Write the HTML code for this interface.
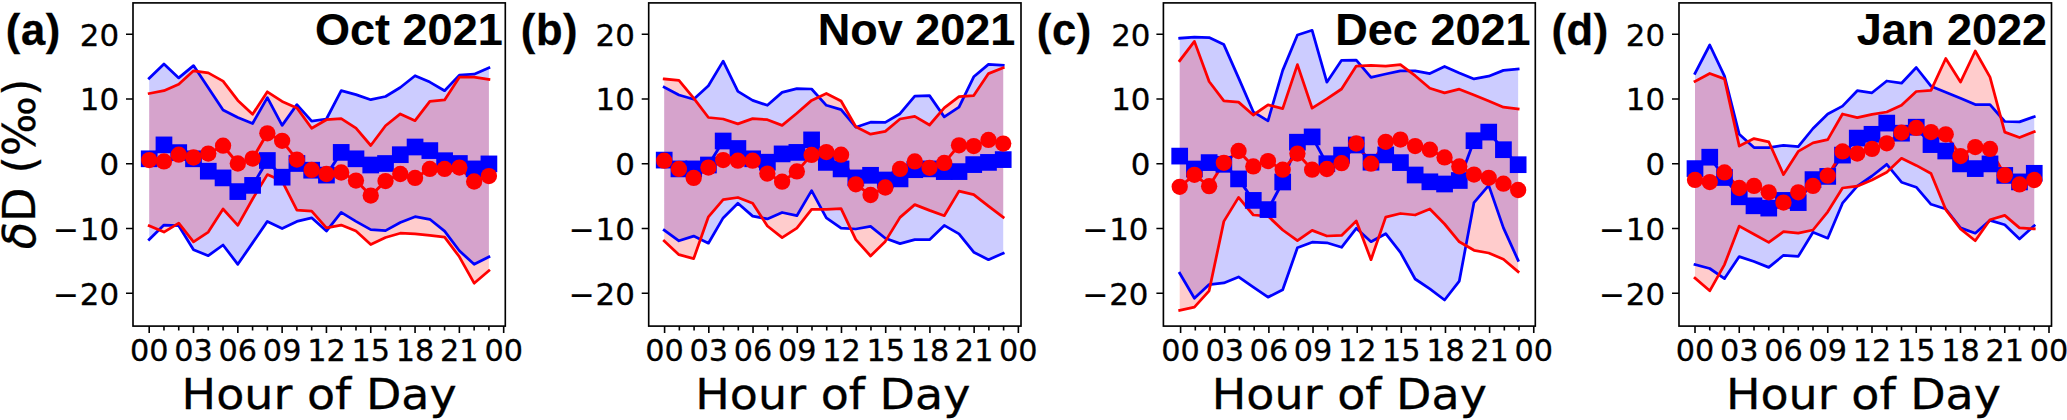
<!DOCTYPE html>
<html lang="en"><head><meta charset="utf-8"><title>Diurnal cycle of δD</title>
<style>html,body{margin:0;padding:0;background:#fff}body{width:2067px;height:420px;overflow:hidden}svg{display:block}.t{font-family:"DejaVu Sans","Liberation Sans",sans-serif;fill:#000}.b{font-family:"Liberation Sans",Arial,Helvetica,sans-serif;font-weight:bold;fill:#000}.l{letter-spacing:0.6px}</style></head><body>
<svg width="2067" height="420" viewBox="0 0 2067 420">
<rect width="2067" height="420" fill="#fff"/>
<g id="panel-a">
<polygon points="149.2,78.3 163.97,63.9 178.74,77.9 193.51,65.6 208.28,87.7 223.05,110 237.82,117.5 252.59,123.5 267.36,97.6 282.13,125.4 296.9,104.6 311.67,121.2 326.44,119 341.21,90.7 355.98,94.6 370.75,99.7 385.52,96.5 400.29,87.5 415.06,75.7 429.83,82.1 444.6,90.7 459.37,75.1 474.14,74.2 488.91,67.8 488.91,256.8 474.14,264.3 459.37,250.8 444.6,231.1 429.83,219.3 415.06,216.7 400.29,222.5 385.52,230.6 370.75,229.6 355.98,221.4 341.21,212.4 326.44,231.1 311.67,217.8 296.9,221.4 282.13,228.5 267.36,221.4 252.59,242.9 237.82,264.3 223.05,245 208.28,255.7 193.51,249.7 178.74,225.7 163.97,225.1 149.2,239.6" fill="#0000ff" fill-opacity="0.2"/>
<polygon points="149.2,93.5 163.97,90.7 178.74,84.3 193.51,70.8 208.28,72.9 223.05,81.1 237.82,100.4 252.59,114.3 267.36,91.8 282.13,101.4 296.9,107.9 311.67,128.2 326.44,119.7 341.21,118.6 355.98,128.2 370.75,145.5 385.52,125.7 400.29,113.9 415.06,120.7 429.83,101.4 444.6,99.9 459.37,77.2 474.14,77.2 488.91,79.4 488.91,270.7 474.14,283.2 459.37,256.8 444.6,237.1 429.83,235.4 415.06,233.9 400.29,233.2 385.52,237.5 370.75,244.6 355.98,231.1 341.21,225.1 326.44,227.9 311.67,211.1 296.9,210.1 282.13,181.1 267.36,174.6 252.59,199 237.82,225.3 223.05,209 208.28,232.1 193.51,241.8 178.74,223.1 163.97,232.1 149.2,225.7" fill="#ff0000" fill-opacity="0.2"/>
<polyline points="149.2,78.3 163.97,63.9 178.74,77.9 193.51,65.6 208.28,87.7 223.05,110 237.82,117.5 252.59,123.5 267.36,97.6 282.13,125.4 296.9,104.6 311.67,121.2 326.44,119 341.21,90.7 355.98,94.6 370.75,99.7 385.52,96.5 400.29,87.5 415.06,75.7 429.83,82.1 444.6,90.7 459.37,75.1 474.14,74.2 488.91,67.8" fill="none" stroke="#0000ff" stroke-width="2.75" stroke-linejoin="round" stroke-linecap="square"/>
<polyline points="149.2,239.6 163.97,225.1 178.74,225.7 193.51,249.7 208.28,255.7 223.05,245 237.82,264.3 252.59,242.9 267.36,221.4 282.13,228.5 296.9,221.4 311.67,217.8 326.44,231.1 341.21,212.4 355.98,221.4 370.75,229.6 385.52,230.6 400.29,222.5 415.06,216.7 429.83,219.3 444.6,231.1 459.37,250.8 474.14,264.3 488.91,256.8" fill="none" stroke="#0000ff" stroke-width="2.75" stroke-linejoin="round" stroke-linecap="square"/>
<polyline points="149.2,93.5 163.97,90.7 178.74,84.3 193.51,70.8 208.28,72.9 223.05,81.1 237.82,100.4 252.59,114.3 267.36,91.8 282.13,101.4 296.9,107.9 311.67,128.2 326.44,119.7 341.21,118.6 355.98,128.2 370.75,145.5 385.52,125.7 400.29,113.9 415.06,120.7 429.83,101.4 444.6,99.9 459.37,77.2 474.14,77.2 488.91,79.4" fill="none" stroke="#ff0000" stroke-width="2.75" stroke-linejoin="round" stroke-linecap="square"/>
<polyline points="149.2,225.7 163.97,232.1 178.74,223.1 193.51,241.8 208.28,232.1 223.05,209 237.82,225.3 252.59,199 267.36,174.6 282.13,181.1 296.9,210.1 311.67,211.1 326.44,227.9 341.21,225.1 355.98,231.1 370.75,244.6 385.52,237.5 400.29,233.2 415.06,233.9 429.83,235.4 444.6,237.1 459.37,256.8 474.14,283.2 488.91,270.7" fill="none" stroke="#ff0000" stroke-width="2.75" stroke-linejoin="round" stroke-linecap="square"/>
<polyline points="149.2,158.8 163.97,144.9 178.74,152.6 193.51,158.8 208.28,171.2 223.05,177.9 237.82,191.6 252.59,185.4 267.36,160.5 282.13,177.2 296.9,163.5 311.67,170.2 326.44,175.1 341.21,152.4 355.98,158.8 370.75,165 385.52,163.5 400.29,154.7 415.06,147 429.83,150.6 444.6,160.7 459.37,163.5 474.14,168.9 488.91,163.9" fill="none" stroke="#0000ff" stroke-width="2.9" stroke-linejoin="round" stroke-linecap="square"/>
<polyline points="149.2,160.1 163.97,161.4 178.74,154.7 193.51,157.5 208.28,153.6 223.05,145.7 237.82,163.5 252.59,158.6 267.36,133.3 282.13,140.8 296.9,159.6 311.67,169.9 326.44,174 341.21,172.5 355.98,180.6 370.75,195.6 385.52,181.1 400.29,174 415.06,177.9 429.83,168.9 444.6,168.9 459.37,167.6 474.14,181.5 488.91,176.1" fill="none" stroke="#ff0000" stroke-width="2.9" stroke-linejoin="round" stroke-linecap="square"/>
<g fill="#0000ff"><rect x="140.85" y="150.45" width="16.7" height="16.7"/><rect x="155.62" y="136.55" width="16.7" height="16.7"/><rect x="170.39" y="144.25" width="16.7" height="16.7"/><rect x="185.16" y="150.45" width="16.7" height="16.7"/><rect x="199.93" y="162.85" width="16.7" height="16.7"/><rect x="214.7" y="169.55" width="16.7" height="16.7"/><rect x="229.47" y="183.25" width="16.7" height="16.7"/><rect x="244.24" y="177.05" width="16.7" height="16.7"/><rect x="259.01" y="152.15" width="16.7" height="16.7"/><rect x="273.78" y="168.85" width="16.7" height="16.7"/><rect x="288.55" y="155.15" width="16.7" height="16.7"/><rect x="303.32" y="161.85" width="16.7" height="16.7"/><rect x="318.09" y="166.75" width="16.7" height="16.7"/><rect x="332.86" y="144.05" width="16.7" height="16.7"/><rect x="347.63" y="150.45" width="16.7" height="16.7"/><rect x="362.4" y="156.65" width="16.7" height="16.7"/><rect x="377.17" y="155.15" width="16.7" height="16.7"/><rect x="391.94" y="146.35" width="16.7" height="16.7"/><rect x="406.71" y="138.65" width="16.7" height="16.7"/><rect x="421.48" y="142.25" width="16.7" height="16.7"/><rect x="436.25" y="152.35" width="16.7" height="16.7"/><rect x="451.02" y="155.15" width="16.7" height="16.7"/><rect x="465.79" y="160.55" width="16.7" height="16.7"/><rect x="480.56" y="155.55" width="16.7" height="16.7"/></g>
<g fill="#ff0000"><circle cx="149.2" cy="160.1" r="8.15"/><circle cx="163.97" cy="161.4" r="8.15"/><circle cx="178.74" cy="154.7" r="8.15"/><circle cx="193.51" cy="157.5" r="8.15"/><circle cx="208.28" cy="153.6" r="8.15"/><circle cx="223.05" cy="145.7" r="8.15"/><circle cx="237.82" cy="163.5" r="8.15"/><circle cx="252.59" cy="158.6" r="8.15"/><circle cx="267.36" cy="133.3" r="8.15"/><circle cx="282.13" cy="140.8" r="8.15"/><circle cx="296.9" cy="159.6" r="8.15"/><circle cx="311.67" cy="169.9" r="8.15"/><circle cx="326.44" cy="174" r="8.15"/><circle cx="341.21" cy="172.5" r="8.15"/><circle cx="355.98" cy="180.6" r="8.15"/><circle cx="370.75" cy="195.6" r="8.15"/><circle cx="385.52" cy="181.1" r="8.15"/><circle cx="400.29" cy="174" r="8.15"/><circle cx="415.06" cy="177.9" r="8.15"/><circle cx="429.83" cy="168.9" r="8.15"/><circle cx="444.6" cy="168.9" r="8.15"/><circle cx="459.37" cy="167.6" r="8.15"/><circle cx="474.14" cy="181.5" r="8.15"/><circle cx="488.91" cy="176.1" r="8.15"/></g>
<rect x="133" y="2.9" width="372.3" height="323.2" fill="none" stroke="#000" stroke-width="1.65"/>
<path d="M149.2 326.1v7.0M163.97 326.1v4.4M178.74 326.1v4.4M193.51 326.1v7.0M208.28 326.1v4.4M223.05 326.1v4.4M237.82 326.1v7.0M252.59 326.1v4.4M267.36 326.1v4.4M282.13 326.1v7.0M296.9 326.1v4.4M311.67 326.1v4.4M326.44 326.1v7.0M341.21 326.1v4.4M355.98 326.1v4.4M370.75 326.1v7.0M385.52 326.1v4.4M400.29 326.1v4.4M415.06 326.1v7.0M429.83 326.1v4.4M444.6 326.1v4.4M459.37 326.1v7.0M474.14 326.1v4.4M488.91 326.1v4.4M503.68 326.1v7.0M133 34.3h-7M133 99.05h-7M133 163.8h-7M133 228.55h-7M133 293.3h-7" stroke="#000" stroke-width="1.6" fill="none"/>
<text class="t" transform="translate(149.2,361) scale(1.02,1)" font-size="29.7" text-anchor="middle" stroke="#000" stroke-width="0.3">00</text>
<text class="t" transform="translate(193.51,361) scale(1.02,1)" font-size="29.7" text-anchor="middle" stroke="#000" stroke-width="0.3">03</text>
<text class="t" transform="translate(237.82,361) scale(1.02,1)" font-size="29.7" text-anchor="middle" stroke="#000" stroke-width="0.3">06</text>
<text class="t" transform="translate(282.13,361) scale(1.02,1)" font-size="29.7" text-anchor="middle" stroke="#000" stroke-width="0.3">09</text>
<text class="t" transform="translate(326.44,361) scale(1.02,1)" font-size="29.7" text-anchor="middle" stroke="#000" stroke-width="0.3">12</text>
<text class="t" transform="translate(370.75,361) scale(1.02,1)" font-size="29.7" text-anchor="middle" stroke="#000" stroke-width="0.3">15</text>
<text class="t" transform="translate(415.06,361) scale(1.02,1)" font-size="29.7" text-anchor="middle" stroke="#000" stroke-width="0.3">18</text>
<text class="t" transform="translate(459.37,361) scale(1.02,1)" font-size="29.7" text-anchor="middle" stroke="#000" stroke-width="0.3">21</text>
<text class="t" transform="translate(503.68,361) scale(1.02,1)" font-size="29.7" text-anchor="middle" stroke="#000" stroke-width="0.3">00</text>
<text class="t" transform="translate(119.1,45.5) scale(1.04,1)" font-size="29.7" text-anchor="end" stroke="#000" stroke-width="0.3">20</text>
<text class="t" transform="translate(119.1,110.25) scale(1.04,1)" font-size="29.7" text-anchor="end" stroke="#000" stroke-width="0.3">10</text>
<text class="t" transform="translate(119.1,175) scale(1.04,1)" font-size="29.7" text-anchor="end" stroke="#000" stroke-width="0.3">0</text>
<text class="t" transform="translate(119.1,239.75) scale(1.04,1)" font-size="29.7" text-anchor="end" stroke="#000" stroke-width="0.3">−<tspan dx="0.9">10</tspan></text>
<text class="t" transform="translate(119.1,304.5) scale(1.04,1)" font-size="29.7" text-anchor="end" stroke="#000" stroke-width="0.3">−<tspan dx="0.9">20</tspan></text>
<text class="t" transform="translate(319.15,409.3) scale(1.062,1)" font-size="43.3" text-anchor="middle" stroke="#000" stroke-width="0.3">Hour of Day</text>
<text class="b" transform="translate(502.7,45.3) scale(1,1)" font-size="45" text-anchor="end" stroke="#000" stroke-width="0.15">Oct 2021</text>
<text class="b l" transform="translate(5.8,45.4) scale(1,1)" font-size="43.5" text-anchor="start" stroke="#000" stroke-width="0.3">(a)</text>
</g>
<g id="panel-b">
<polygon points="664.2,87.1 678.94,95 693.68,99.3 708.42,85.8 723.16,61.1 737.9,91.4 752.64,100.4 767.38,105.3 782.12,92.4 796.86,88.6 811.6,89 826.34,105.3 841.08,109.6 855.82,127.2 870.56,122.2 885.3,122.4 900.04,113.7 914.78,96.1 929.52,95.6 944.26,116.9 959,107.2 973.74,76.8 988.48,64.4 1003.22,65.4 1003.22,253.2 988.48,259.7 973.74,252.2 959,233.9 944.26,225.4 929.52,239.7 914.78,239.7 900.04,243.6 885.3,238.2 870.56,226.4 855.82,229 841.08,228.1 826.34,217.9 811.6,190.6 796.86,215.7 782.12,212.5 767.38,218.9 752.64,216.1 737.9,203.3 723.16,217.9 708.42,243.2 693.68,236.1 678.94,240.8 664.2,230.1" fill="#0000ff" fill-opacity="0.2"/>
<polygon points="664.2,78.9 678.94,80.4 693.68,98.2 708.42,117.5 723.16,119 737.9,123.9 752.64,118.6 767.38,119.7 782.12,125.4 796.86,113.2 811.6,100.4 826.34,93.5 841.08,101 855.82,126.7 870.56,134.2 885.3,131.4 900.04,119 914.78,116.4 929.52,125 944.26,107.9 959,96.7 973.74,95.6 988.48,73.6 1003.22,67.8 1003.22,217.2 988.48,206.1 973.74,194.7 959,191.1 944.26,215.7 929.52,210.4 914.78,204.6 900.04,217.4 885.3,241.4 870.56,256 855.82,239.7 841.08,208.6 826.34,209.3 811.6,209.3 796.86,228.1 782.12,237.6 767.38,226 752.64,203.3 737.9,197.5 723.16,199.6 708.42,216.8 693.68,258.6 678.94,254.7 664.2,241" fill="#ff0000" fill-opacity="0.2"/>
<polyline points="664.2,87.1 678.94,95 693.68,99.3 708.42,85.8 723.16,61.1 737.9,91.4 752.64,100.4 767.38,105.3 782.12,92.4 796.86,88.6 811.6,89 826.34,105.3 841.08,109.6 855.82,127.2 870.56,122.2 885.3,122.4 900.04,113.7 914.78,96.1 929.52,95.6 944.26,116.9 959,107.2 973.74,76.8 988.48,64.4 1003.22,65.4" fill="none" stroke="#0000ff" stroke-width="2.75" stroke-linejoin="round" stroke-linecap="square"/>
<polyline points="664.2,230.1 678.94,240.8 693.68,236.1 708.42,243.2 723.16,217.9 737.9,203.3 752.64,216.1 767.38,218.9 782.12,212.5 796.86,215.7 811.6,190.6 826.34,217.9 841.08,228.1 855.82,229 870.56,226.4 885.3,238.2 900.04,243.6 914.78,239.7 929.52,239.7 944.26,225.4 959,233.9 973.74,252.2 988.48,259.7 1003.22,253.2" fill="none" stroke="#0000ff" stroke-width="2.75" stroke-linejoin="round" stroke-linecap="square"/>
<polyline points="664.2,78.9 678.94,80.4 693.68,98.2 708.42,117.5 723.16,119 737.9,123.9 752.64,118.6 767.38,119.7 782.12,125.4 796.86,113.2 811.6,100.4 826.34,93.5 841.08,101 855.82,126.7 870.56,134.2 885.3,131.4 900.04,119 914.78,116.4 929.52,125 944.26,107.9 959,96.7 973.74,95.6 988.48,73.6 1003.22,67.8" fill="none" stroke="#ff0000" stroke-width="2.75" stroke-linejoin="round" stroke-linecap="square"/>
<polyline points="664.2,241 678.94,254.7 693.68,258.6 708.42,216.8 723.16,199.6 737.9,197.5 752.64,203.3 767.38,226 782.12,237.6 796.86,228.1 811.6,209.3 826.34,209.3 841.08,208.6 855.82,239.7 870.56,256 885.3,241.4 900.04,217.4 914.78,204.6 929.52,210.4 944.26,215.7 959,191.1 973.74,194.7 988.48,206.1 1003.22,217.2" fill="none" stroke="#ff0000" stroke-width="2.75" stroke-linejoin="round" stroke-linecap="square"/>
<polyline points="664.2,160.1 678.94,168.9 693.68,168.9 708.42,165 723.16,141 737.9,148.5 752.64,158.8 767.38,162.2 782.12,153.9 796.86,152.4 811.6,139.9 826.34,162.4 841.08,168.9 855.82,177.9 870.56,175.3 885.3,180 900.04,178.9 914.78,169.7 929.52,168.9 944.26,171.6 959,171.6 973.74,164.6 988.48,162.4 1003.22,159.6" fill="none" stroke="#0000ff" stroke-width="2.9" stroke-linejoin="round" stroke-linecap="square"/>
<polyline points="664.2,160.7 678.94,168.9 693.68,177.9 708.42,167.6 723.16,160.1 737.9,160.7 752.64,160.7 767.38,173.6 782.12,181.7 796.86,171.4 811.6,154.9 826.34,152.1 841.08,154.7 855.82,184.3 870.56,195 885.3,187.5 900.04,168.9 914.78,161.4 929.52,167.8 944.26,162.9 959,145.3 973.74,146.1 988.48,139.9 1003.22,143.6" fill="none" stroke="#ff0000" stroke-width="2.9" stroke-linejoin="round" stroke-linecap="square"/>
<g fill="#0000ff"><rect x="655.85" y="151.75" width="16.7" height="16.7"/><rect x="670.59" y="160.55" width="16.7" height="16.7"/><rect x="685.33" y="160.55" width="16.7" height="16.7"/><rect x="700.07" y="156.65" width="16.7" height="16.7"/><rect x="714.81" y="132.65" width="16.7" height="16.7"/><rect x="729.55" y="140.15" width="16.7" height="16.7"/><rect x="744.29" y="150.45" width="16.7" height="16.7"/><rect x="759.03" y="153.85" width="16.7" height="16.7"/><rect x="773.77" y="145.55" width="16.7" height="16.7"/><rect x="788.51" y="144.05" width="16.7" height="16.7"/><rect x="803.25" y="131.55" width="16.7" height="16.7"/><rect x="817.99" y="154.05" width="16.7" height="16.7"/><rect x="832.73" y="160.55" width="16.7" height="16.7"/><rect x="847.47" y="169.55" width="16.7" height="16.7"/><rect x="862.21" y="166.95" width="16.7" height="16.7"/><rect x="876.95" y="171.65" width="16.7" height="16.7"/><rect x="891.69" y="170.55" width="16.7" height="16.7"/><rect x="906.43" y="161.35" width="16.7" height="16.7"/><rect x="921.17" y="160.55" width="16.7" height="16.7"/><rect x="935.91" y="163.25" width="16.7" height="16.7"/><rect x="950.65" y="163.25" width="16.7" height="16.7"/><rect x="965.39" y="156.25" width="16.7" height="16.7"/><rect x="980.13" y="154.05" width="16.7" height="16.7"/><rect x="994.87" y="151.25" width="16.7" height="16.7"/></g>
<g fill="#ff0000"><circle cx="664.2" cy="160.7" r="8.15"/><circle cx="678.94" cy="168.9" r="8.15"/><circle cx="693.68" cy="177.9" r="8.15"/><circle cx="708.42" cy="167.6" r="8.15"/><circle cx="723.16" cy="160.1" r="8.15"/><circle cx="737.9" cy="160.7" r="8.15"/><circle cx="752.64" cy="160.7" r="8.15"/><circle cx="767.38" cy="173.6" r="8.15"/><circle cx="782.12" cy="181.7" r="8.15"/><circle cx="796.86" cy="171.4" r="8.15"/><circle cx="811.6" cy="154.9" r="8.15"/><circle cx="826.34" cy="152.1" r="8.15"/><circle cx="841.08" cy="154.7" r="8.15"/><circle cx="855.82" cy="184.3" r="8.15"/><circle cx="870.56" cy="195" r="8.15"/><circle cx="885.3" cy="187.5" r="8.15"/><circle cx="900.04" cy="168.9" r="8.15"/><circle cx="914.78" cy="161.4" r="8.15"/><circle cx="929.52" cy="167.8" r="8.15"/><circle cx="944.26" cy="162.9" r="8.15"/><circle cx="959" cy="145.3" r="8.15"/><circle cx="973.74" cy="146.1" r="8.15"/><circle cx="988.48" cy="139.9" r="8.15"/><circle cx="1003.22" cy="143.6" r="8.15"/></g>
<rect x="648.7" y="2.9" width="372.3" height="323.2" fill="none" stroke="#000" stroke-width="1.65"/>
<path d="M664.6 326.1v7.0M679.34 326.1v4.4M694.08 326.1v4.4M708.82 326.1v7.0M723.56 326.1v4.4M738.3 326.1v4.4M753.04 326.1v7.0M767.78 326.1v4.4M782.52 326.1v4.4M797.26 326.1v7.0M812 326.1v4.4M826.74 326.1v4.4M841.48 326.1v7.0M856.22 326.1v4.4M870.96 326.1v4.4M885.7 326.1v7.0M900.44 326.1v4.4M915.18 326.1v4.4M929.92 326.1v7.0M944.66 326.1v4.4M959.4 326.1v4.4M974.14 326.1v7.0M988.88 326.1v4.4M1003.62 326.1v4.4M1018.36 326.1v7.0M648.7 34.3h-7M648.7 99.05h-7M648.7 163.8h-7M648.7 228.55h-7M648.7 293.3h-7" stroke="#000" stroke-width="1.6" fill="none"/>
<text class="t" transform="translate(664.6,361) scale(1.02,1)" font-size="29.7" text-anchor="middle" stroke="#000" stroke-width="0.3">00</text>
<text class="t" transform="translate(708.82,361) scale(1.02,1)" font-size="29.7" text-anchor="middle" stroke="#000" stroke-width="0.3">03</text>
<text class="t" transform="translate(753.04,361) scale(1.02,1)" font-size="29.7" text-anchor="middle" stroke="#000" stroke-width="0.3">06</text>
<text class="t" transform="translate(797.26,361) scale(1.02,1)" font-size="29.7" text-anchor="middle" stroke="#000" stroke-width="0.3">09</text>
<text class="t" transform="translate(841.48,361) scale(1.02,1)" font-size="29.7" text-anchor="middle" stroke="#000" stroke-width="0.3">12</text>
<text class="t" transform="translate(885.7,361) scale(1.02,1)" font-size="29.7" text-anchor="middle" stroke="#000" stroke-width="0.3">15</text>
<text class="t" transform="translate(929.92,361) scale(1.02,1)" font-size="29.7" text-anchor="middle" stroke="#000" stroke-width="0.3">18</text>
<text class="t" transform="translate(974.14,361) scale(1.02,1)" font-size="29.7" text-anchor="middle" stroke="#000" stroke-width="0.3">21</text>
<text class="t" transform="translate(1018.36,361) scale(1.02,1)" font-size="29.7" text-anchor="middle" stroke="#000" stroke-width="0.3">00</text>
<text class="t" transform="translate(634.8,45.5) scale(1.04,1)" font-size="29.7" text-anchor="end" stroke="#000" stroke-width="0.3">20</text>
<text class="t" transform="translate(634.8,110.25) scale(1.04,1)" font-size="29.7" text-anchor="end" stroke="#000" stroke-width="0.3">10</text>
<text class="t" transform="translate(634.8,175) scale(1.04,1)" font-size="29.7" text-anchor="end" stroke="#000" stroke-width="0.3">0</text>
<text class="t" transform="translate(634.8,239.75) scale(1.04,1)" font-size="29.7" text-anchor="end" stroke="#000" stroke-width="0.3">−<tspan dx="0.9">10</tspan></text>
<text class="t" transform="translate(634.8,304.5) scale(1.04,1)" font-size="29.7" text-anchor="end" stroke="#000" stroke-width="0.3">−<tspan dx="0.9">20</tspan></text>
<text class="t" transform="translate(832.85,409.3) scale(1.062,1)" font-size="43.3" text-anchor="middle" stroke="#000" stroke-width="0.3">Hour of Day</text>
<text class="b" transform="translate(1015.3,45.3) scale(1,1)" font-size="45" text-anchor="end" stroke="#000" stroke-width="0.15">Nov 2021</text>
<text class="b l" transform="translate(520.8,45.4) scale(1,1)" font-size="43.5" text-anchor="start" stroke="#000" stroke-width="0.3">(b)</text>
</g>
<g id="panel-c">
<polygon points="1179.7,38.2 1194.41,37.1 1209.13,37.6 1223.85,44.6 1238.56,77.9 1253.28,111.8 1267.99,120.8 1282.7,70.4 1297.42,35 1312.13,30.3 1326.85,82.2 1341.57,60.3 1356.28,60.1 1371,77.4 1385.71,74 1400.42,70.8 1415.14,70.8 1429.86,73.6 1444.57,66.5 1459.29,72.9 1474,78.9 1488.72,76.2 1503.43,70.4 1518.14,68.9 1518.14,260.4 1503.43,227.9 1488.72,185.4 1474,202.6 1459.29,281.1 1444.57,300 1429.86,288.9 1415.14,279 1400.42,252.4 1385.71,233.7 1371,241.7 1356.28,228.3 1341.57,247.3 1326.85,242.8 1312.13,242.2 1297.42,247.8 1282.7,289.7 1267.99,297.2 1253.28,287.1 1238.56,276.9 1223.85,282.9 1209.13,284.6 1194.41,298.3 1179.7,273.2" fill="#0000ff" fill-opacity="0.2"/>
<polygon points="1179.7,60.7 1194.41,41.4 1209.13,81.5 1223.85,100.8 1238.56,102.1 1253.28,115 1267.99,104.9 1282.7,108.6 1297.42,64.6 1312.13,108.2 1326.85,98.9 1341.57,89 1356.28,66.1 1371,65.4 1385.71,66.1 1400.42,64.6 1415.14,75.7 1429.86,88.2 1444.57,92.9 1459.29,89.2 1474,95 1488.72,101 1503.43,107.2 1518.14,109 1518.14,271.7 1503.43,259.2 1488.72,253 1474,250.3 1459.29,241.8 1444.57,224 1429.86,209 1415.14,215 1400.42,213.5 1385.71,217.1 1371,259.7 1356.28,221 1341.57,235.4 1326.85,236 1312.13,230.4 1297.42,240.7 1282.7,230 1267.99,216.1 1253.28,215 1238.56,197.4 1223.85,221.4 1209.13,290.8 1194.41,307.1 1179.7,310.3" fill="#ff0000" fill-opacity="0.2"/>
<polyline points="1179.7,38.2 1194.41,37.1 1209.13,37.6 1223.85,44.6 1238.56,77.9 1253.28,111.8 1267.99,120.8 1282.7,70.4 1297.42,35 1312.13,30.3 1326.85,82.2 1341.57,60.3 1356.28,60.1 1371,77.4 1385.71,74 1400.42,70.8 1415.14,70.8 1429.86,73.6 1444.57,66.5 1459.29,72.9 1474,78.9 1488.72,76.2 1503.43,70.4 1518.14,68.9" fill="none" stroke="#0000ff" stroke-width="2.75" stroke-linejoin="round" stroke-linecap="square"/>
<polyline points="1179.7,273.2 1194.41,298.3 1209.13,284.6 1223.85,282.9 1238.56,276.9 1253.28,287.1 1267.99,297.2 1282.7,289.7 1297.42,247.8 1312.13,242.2 1326.85,242.8 1341.57,247.3 1356.28,228.3 1371,241.7 1385.71,233.7 1400.42,252.4 1415.14,279 1429.86,288.9 1444.57,300 1459.29,281.1 1474,202.6 1488.72,185.4 1503.43,227.9 1518.14,260.4" fill="none" stroke="#0000ff" stroke-width="2.75" stroke-linejoin="round" stroke-linecap="square"/>
<polyline points="1179.7,60.7 1194.41,41.4 1209.13,81.5 1223.85,100.8 1238.56,102.1 1253.28,115 1267.99,104.9 1282.7,108.6 1297.42,64.6 1312.13,108.2 1326.85,98.9 1341.57,89 1356.28,66.1 1371,65.4 1385.71,66.1 1400.42,64.6 1415.14,75.7 1429.86,88.2 1444.57,92.9 1459.29,89.2 1474,95 1488.72,101 1503.43,107.2 1518.14,109" fill="none" stroke="#ff0000" stroke-width="2.75" stroke-linejoin="round" stroke-linecap="square"/>
<polyline points="1179.7,310.3 1194.41,307.1 1209.13,290.8 1223.85,221.4 1238.56,197.4 1253.28,215 1267.99,216.1 1282.7,230 1297.42,240.7 1312.13,230.4 1326.85,236 1341.57,235.4 1356.28,221 1371,259.7 1385.71,217.1 1400.42,213.5 1415.14,215 1429.86,209 1444.57,224 1459.29,241.8 1474,250.3 1488.72,253 1503.43,259.2 1518.14,271.7" fill="none" stroke="#ff0000" stroke-width="2.75" stroke-linejoin="round" stroke-linecap="square"/>
<polyline points="1179.7,156.1 1194.41,169 1209.13,162.6 1223.85,164.3 1238.56,178.9 1253.28,200.4 1267.99,209.6 1282.7,182 1297.42,142.2 1312.13,136.9 1326.85,163.7 1341.57,155.1 1356.28,145 1371,162.2 1385.71,154.9 1400.42,162.6 1415.14,175 1429.86,181.8 1444.57,184 1459.29,180.5 1474,140.7 1488.72,132.1 1503.43,149.7 1518.14,164.7" fill="none" stroke="#0000ff" stroke-width="2.9" stroke-linejoin="round" stroke-linecap="square"/>
<polyline points="1179.7,186.8 1194.41,174.8 1209.13,186.2 1223.85,162.8 1238.56,151 1253.28,166.4 1267.99,161.1 1282.7,169.7 1297.42,153.6 1312.13,169.7 1326.85,169 1341.57,163.2 1356.28,143.5 1371,163.7 1385.71,141.8 1400.42,139.6 1415.14,146.1 1429.86,149.7 1444.57,157.4 1459.29,166.4 1474,174.6 1488.72,177.8 1503.43,183.7 1518.14,190" fill="none" stroke="#ff0000" stroke-width="2.9" stroke-linejoin="round" stroke-linecap="square"/>
<g fill="#0000ff"><rect x="1171.35" y="147.75" width="16.7" height="16.7"/><rect x="1186.07" y="160.65" width="16.7" height="16.7"/><rect x="1200.78" y="154.25" width="16.7" height="16.7"/><rect x="1215.5" y="155.95" width="16.7" height="16.7"/><rect x="1230.21" y="170.55" width="16.7" height="16.7"/><rect x="1244.93" y="192.05" width="16.7" height="16.7"/><rect x="1259.64" y="201.25" width="16.7" height="16.7"/><rect x="1274.36" y="173.65" width="16.7" height="16.7"/><rect x="1289.07" y="133.85" width="16.7" height="16.7"/><rect x="1303.79" y="128.55" width="16.7" height="16.7"/><rect x="1318.5" y="155.35" width="16.7" height="16.7"/><rect x="1333.22" y="146.75" width="16.7" height="16.7"/><rect x="1347.93" y="136.65" width="16.7" height="16.7"/><rect x="1362.65" y="153.85" width="16.7" height="16.7"/><rect x="1377.36" y="146.55" width="16.7" height="16.7"/><rect x="1392.08" y="154.25" width="16.7" height="16.7"/><rect x="1406.79" y="166.65" width="16.7" height="16.7"/><rect x="1421.51" y="173.45" width="16.7" height="16.7"/><rect x="1436.22" y="175.65" width="16.7" height="16.7"/><rect x="1450.94" y="172.15" width="16.7" height="16.7"/><rect x="1465.65" y="132.35" width="16.7" height="16.7"/><rect x="1480.37" y="123.75" width="16.7" height="16.7"/><rect x="1495.08" y="141.35" width="16.7" height="16.7"/><rect x="1509.8" y="156.35" width="16.7" height="16.7"/></g>
<g fill="#ff0000"><circle cx="1179.7" cy="186.8" r="8.15"/><circle cx="1194.41" cy="174.8" r="8.15"/><circle cx="1209.13" cy="186.2" r="8.15"/><circle cx="1223.85" cy="162.8" r="8.15"/><circle cx="1238.56" cy="151" r="8.15"/><circle cx="1253.28" cy="166.4" r="8.15"/><circle cx="1267.99" cy="161.1" r="8.15"/><circle cx="1282.7" cy="169.7" r="8.15"/><circle cx="1297.42" cy="153.6" r="8.15"/><circle cx="1312.13" cy="169.7" r="8.15"/><circle cx="1326.85" cy="169" r="8.15"/><circle cx="1341.57" cy="163.2" r="8.15"/><circle cx="1356.28" cy="143.5" r="8.15"/><circle cx="1371" cy="163.7" r="8.15"/><circle cx="1385.71" cy="141.8" r="8.15"/><circle cx="1400.42" cy="139.6" r="8.15"/><circle cx="1415.14" cy="146.1" r="8.15"/><circle cx="1429.86" cy="149.7" r="8.15"/><circle cx="1444.57" cy="157.4" r="8.15"/><circle cx="1459.29" cy="166.4" r="8.15"/><circle cx="1474" cy="174.6" r="8.15"/><circle cx="1488.72" cy="177.8" r="8.15"/><circle cx="1503.43" cy="183.7" r="8.15"/><circle cx="1518.14" cy="190" r="8.15"/></g>
<rect x="1163.4" y="2.9" width="371.9" height="323.2" fill="none" stroke="#000" stroke-width="1.65"/>
<path d="M1180.6 326.1v7.0M1195.31 326.1v4.4M1210.03 326.1v4.4M1224.74 326.1v7.0M1239.46 326.1v4.4M1254.17 326.1v4.4M1268.89 326.1v7.0M1283.61 326.1v4.4M1298.32 326.1v4.4M1313.03 326.1v7.0M1327.75 326.1v4.4M1342.46 326.1v4.4M1357.18 326.1v7.0M1371.89 326.1v4.4M1386.61 326.1v4.4M1401.32 326.1v7.0M1416.04 326.1v4.4M1430.75 326.1v4.4M1445.47 326.1v7.0M1460.18 326.1v4.4M1474.9 326.1v4.4M1489.61 326.1v7.0M1504.33 326.1v4.4M1519.04 326.1v4.4M1533.76 326.1v7.0M1163.4 34.3h-7M1163.4 99.05h-7M1163.4 163.8h-7M1163.4 228.55h-7M1163.4 293.3h-7" stroke="#000" stroke-width="1.6" fill="none"/>
<text class="t" transform="translate(1180.6,361) scale(1.02,1)" font-size="29.7" text-anchor="middle" stroke="#000" stroke-width="0.3">00</text>
<text class="t" transform="translate(1224.74,361) scale(1.02,1)" font-size="29.7" text-anchor="middle" stroke="#000" stroke-width="0.3">03</text>
<text class="t" transform="translate(1268.89,361) scale(1.02,1)" font-size="29.7" text-anchor="middle" stroke="#000" stroke-width="0.3">06</text>
<text class="t" transform="translate(1313.03,361) scale(1.02,1)" font-size="29.7" text-anchor="middle" stroke="#000" stroke-width="0.3">09</text>
<text class="t" transform="translate(1357.18,361) scale(1.02,1)" font-size="29.7" text-anchor="middle" stroke="#000" stroke-width="0.3">12</text>
<text class="t" transform="translate(1401.32,361) scale(1.02,1)" font-size="29.7" text-anchor="middle" stroke="#000" stroke-width="0.3">15</text>
<text class="t" transform="translate(1445.47,361) scale(1.02,1)" font-size="29.7" text-anchor="middle" stroke="#000" stroke-width="0.3">18</text>
<text class="t" transform="translate(1489.61,361) scale(1.02,1)" font-size="29.7" text-anchor="middle" stroke="#000" stroke-width="0.3">21</text>
<text class="t" transform="translate(1533.76,361) scale(1.02,1)" font-size="29.7" text-anchor="middle" stroke="#000" stroke-width="0.3">00</text>
<text class="t" transform="translate(1150.5,45.5) scale(1.04,1)" font-size="29.7" text-anchor="end" stroke="#000" stroke-width="0.3">20</text>
<text class="t" transform="translate(1150.5,110.25) scale(1.04,1)" font-size="29.7" text-anchor="end" stroke="#000" stroke-width="0.3">10</text>
<text class="t" transform="translate(1150.5,175) scale(1.04,1)" font-size="29.7" text-anchor="end" stroke="#000" stroke-width="0.3">0</text>
<text class="t" transform="translate(1148.5,239.75) scale(1.04,1)" font-size="29.7" text-anchor="end" stroke="#000" stroke-width="0.3">−<tspan dx="0.9">10</tspan></text>
<text class="t" transform="translate(1148.5,304.5) scale(1.04,1)" font-size="29.7" text-anchor="end" stroke="#000" stroke-width="0.3">−<tspan dx="0.9">20</tspan></text>
<text class="t" transform="translate(1349.35,409.3) scale(1.062,1)" font-size="43.3" text-anchor="middle" stroke="#000" stroke-width="0.3">Hour of Day</text>
<text class="b" transform="translate(1530.5,45.3) scale(1,1)" font-size="45" text-anchor="end" stroke="#000" stroke-width="0.15">Dec 2021</text>
<text class="b l" transform="translate(1036.8,45.4) scale(1,1)" font-size="43.5" text-anchor="start" stroke="#000" stroke-width="0.3">(c)</text>
</g>
<g id="panel-d">
<polygon points="1695,73.5 1709.75,45 1724.5,76.1 1739.25,134.3 1754,147.6 1768.75,147.6 1783.5,145.4 1798.25,146.7 1813,128.5 1827.75,114 1842.5,106.1 1857.25,90.7 1872,92.8 1886.75,81 1901.5,83.2 1916.25,67.5 1931,86.2 1945.75,92.2 1960.5,98.2 1975.25,104.6 1990,104.6 2004.75,121.5 2019.5,121.9 2034.25,116.7 2034.25,225.7 2019.5,239 2004.75,224.7 1990,220.4 1975.25,233.2 1960.5,227.9 1945.75,209 1931,204.3 1916.25,187.2 1901.5,182.2 1886.75,164.3 1872,176 1857.25,186.1 1842.5,203.2 1827.75,238.2 1813,232.2 1798.25,256.4 1783.5,255.3 1768.75,267.4 1754,261.5 1739.25,256.6 1724.5,278.6 1709.75,268.5 1695,264.6" fill="#0000ff" fill-opacity="0.2"/>
<polygon points="1695,81.4 1709.75,73.5 1724.5,78.9 1739.25,146.1 1754,138.6 1768.75,141.8 1783.5,174.6 1798.25,151.4 1813,142.9 1827.75,139.6 1842.5,114 1857.25,117.6 1872,114.3 1886.75,112 1901.5,105.2 1916.25,91.5 1931,90.4 1945.75,58.5 1960.5,82.1 1975.25,51 1990,77.1 2004.75,132.1 2019.5,137.5 2034.25,131.7 2034.25,228.9 2019.5,227.9 2004.75,215.4 1990,219.7 1975.25,240.7 1960.5,228.9 1945.75,209.6 1931,173.5 1916.25,165.4 1901.5,158.3 1886.75,172.2 1872,180 1857.25,186.2 1842.5,188 1827.75,211.8 1813,230 1798.25,233.2 1783.5,231.7 1768.75,242.4 1754,234.3 1739.25,226.1 1724.5,264.6 1709.75,290.8 1695,278.1" fill="#ff0000" fill-opacity="0.2"/>
<polyline points="1695,73.5 1709.75,45 1724.5,76.1 1739.25,134.3 1754,147.6 1768.75,147.6 1783.5,145.4 1798.25,146.7 1813,128.5 1827.75,114 1842.5,106.1 1857.25,90.7 1872,92.8 1886.75,81 1901.5,83.2 1916.25,67.5 1931,86.2 1945.75,92.2 1960.5,98.2 1975.25,104.6 1990,104.6 2004.75,121.5 2019.5,121.9 2034.25,116.7" fill="none" stroke="#0000ff" stroke-width="2.75" stroke-linejoin="round" stroke-linecap="square"/>
<polyline points="1695,264.6 1709.75,268.5 1724.5,278.6 1739.25,256.6 1754,261.5 1768.75,267.4 1783.5,255.3 1798.25,256.4 1813,232.2 1827.75,238.2 1842.5,203.2 1857.25,186.1 1872,176 1886.75,164.3 1901.5,182.2 1916.25,187.2 1931,204.3 1945.75,209 1960.5,227.9 1975.25,233.2 1990,220.4 2004.75,224.7 2019.5,239 2034.25,225.7" fill="none" stroke="#0000ff" stroke-width="2.75" stroke-linejoin="round" stroke-linecap="square"/>
<polyline points="1695,81.4 1709.75,73.5 1724.5,78.9 1739.25,146.1 1754,138.6 1768.75,141.8 1783.5,174.6 1798.25,151.4 1813,142.9 1827.75,139.6 1842.5,114 1857.25,117.6 1872,114.3 1886.75,112 1901.5,105.2 1916.25,91.5 1931,90.4 1945.75,58.5 1960.5,82.1 1975.25,51 1990,77.1 2004.75,132.1 2019.5,137.5 2034.25,131.7" fill="none" stroke="#ff0000" stroke-width="2.75" stroke-linejoin="round" stroke-linecap="square"/>
<polyline points="1695,278.1 1709.75,290.8 1724.5,264.6 1739.25,226.1 1754,234.3 1768.75,242.4 1783.5,231.7 1798.25,233.2 1813,230 1827.75,211.8 1842.5,188 1857.25,186.2 1872,180 1886.75,172.2 1901.5,158.3 1916.25,165.4 1931,173.5 1945.75,209.6 1960.5,228.9 1975.25,240.7 1990,219.7 2004.75,215.4 2019.5,227.9 2034.25,228.9" fill="none" stroke="#ff0000" stroke-width="2.75" stroke-linejoin="round" stroke-linecap="square"/>
<polyline points="1695,168.6 1709.75,157.2 1724.5,177.5 1739.25,196.8 1754,205.8 1768.75,208.1 1783.5,200.4 1798.25,202.6 1813,179.6 1827.75,176.4 1842.5,155.1 1857.25,138.1 1872,134.3 1886.75,123.1 1901.5,133.2 1916.25,127.2 1931,144.6 1945.75,151 1960.5,163.9 1975.25,168.6 1990,163.9 2004.75,175.4 2019.5,181.9 2034.25,173.3" fill="none" stroke="#0000ff" stroke-width="2.9" stroke-linejoin="round" stroke-linecap="square"/>
<polyline points="1695,179.9 1709.75,182.1 1724.5,172.4 1739.25,188 1754,185.9 1768.75,192.3 1783.5,202.6 1798.25,192.3 1813,185.9 1827.75,175.7 1842.5,151.4 1857.25,153.6 1872,148.9 1886.75,143.3 1901.5,132.6 1916.25,127.9 1931,132.1 1945.75,134.3 1960.5,156.1 1975.25,147.1 1990,148.9 2004.75,175.2 2019.5,184.4 2034.25,180" fill="none" stroke="#ff0000" stroke-width="2.9" stroke-linejoin="round" stroke-linecap="square"/>
<g fill="#0000ff"><rect x="1686.65" y="160.25" width="16.7" height="16.7"/><rect x="1701.4" y="148.85" width="16.7" height="16.7"/><rect x="1716.15" y="169.15" width="16.7" height="16.7"/><rect x="1730.9" y="188.45" width="16.7" height="16.7"/><rect x="1745.65" y="197.45" width="16.7" height="16.7"/><rect x="1760.4" y="199.75" width="16.7" height="16.7"/><rect x="1775.15" y="192.05" width="16.7" height="16.7"/><rect x="1789.9" y="194.25" width="16.7" height="16.7"/><rect x="1804.65" y="171.25" width="16.7" height="16.7"/><rect x="1819.4" y="168.05" width="16.7" height="16.7"/><rect x="1834.15" y="146.75" width="16.7" height="16.7"/><rect x="1848.9" y="129.75" width="16.7" height="16.7"/><rect x="1863.65" y="125.95" width="16.7" height="16.7"/><rect x="1878.4" y="114.75" width="16.7" height="16.7"/><rect x="1893.15" y="124.85" width="16.7" height="16.7"/><rect x="1907.9" y="118.85" width="16.7" height="16.7"/><rect x="1922.65" y="136.25" width="16.7" height="16.7"/><rect x="1937.4" y="142.65" width="16.7" height="16.7"/><rect x="1952.15" y="155.55" width="16.7" height="16.7"/><rect x="1966.9" y="160.25" width="16.7" height="16.7"/><rect x="1981.65" y="155.55" width="16.7" height="16.7"/><rect x="1996.4" y="167.05" width="16.7" height="16.7"/><rect x="2011.15" y="173.55" width="16.7" height="16.7"/><rect x="2025.9" y="164.95" width="16.7" height="16.7"/></g>
<g fill="#ff0000"><circle cx="1695" cy="179.9" r="8.15"/><circle cx="1709.75" cy="182.1" r="8.15"/><circle cx="1724.5" cy="172.4" r="8.15"/><circle cx="1739.25" cy="188" r="8.15"/><circle cx="1754" cy="185.9" r="8.15"/><circle cx="1768.75" cy="192.3" r="8.15"/><circle cx="1783.5" cy="202.6" r="8.15"/><circle cx="1798.25" cy="192.3" r="8.15"/><circle cx="1813" cy="185.9" r="8.15"/><circle cx="1827.75" cy="175.7" r="8.15"/><circle cx="1842.5" cy="151.4" r="8.15"/><circle cx="1857.25" cy="153.6" r="8.15"/><circle cx="1872" cy="148.9" r="8.15"/><circle cx="1886.75" cy="143.3" r="8.15"/><circle cx="1901.5" cy="132.6" r="8.15"/><circle cx="1916.25" cy="127.9" r="8.15"/><circle cx="1931" cy="132.1" r="8.15"/><circle cx="1945.75" cy="134.3" r="8.15"/><circle cx="1960.5" cy="156.1" r="8.15"/><circle cx="1975.25" cy="147.1" r="8.15"/><circle cx="1990" cy="148.9" r="8.15"/><circle cx="2004.75" cy="175.2" r="8.15"/><circle cx="2019.5" cy="184.4" r="8.15"/><circle cx="2034.25" cy="180" r="8.15"/></g>
<rect x="1679" y="2.9" width="372.5" height="323.2" fill="none" stroke="#000" stroke-width="1.65"/>
<path d="M1695 326.1v7.0M1709.75 326.1v4.4M1724.5 326.1v4.4M1739.25 326.1v7.0M1754 326.1v4.4M1768.75 326.1v4.4M1783.5 326.1v7.0M1798.25 326.1v4.4M1813 326.1v4.4M1827.75 326.1v7.0M1842.5 326.1v4.4M1857.25 326.1v4.4M1872 326.1v7.0M1886.75 326.1v4.4M1901.5 326.1v4.4M1916.25 326.1v7.0M1931 326.1v4.4M1945.75 326.1v4.4M1960.5 326.1v7.0M1975.25 326.1v4.4M1990 326.1v4.4M2004.75 326.1v7.0M2019.5 326.1v4.4M2034.25 326.1v4.4M2049 326.1v7.0M1679 34.3h-7M1679 99.05h-7M1679 163.8h-7M1679 228.55h-7M1679 293.3h-7" stroke="#000" stroke-width="1.6" fill="none"/>
<text class="t" transform="translate(1695,361) scale(1.02,1)" font-size="29.7" text-anchor="middle" stroke="#000" stroke-width="0.3">00</text>
<text class="t" transform="translate(1739.25,361) scale(1.02,1)" font-size="29.7" text-anchor="middle" stroke="#000" stroke-width="0.3">03</text>
<text class="t" transform="translate(1783.5,361) scale(1.02,1)" font-size="29.7" text-anchor="middle" stroke="#000" stroke-width="0.3">06</text>
<text class="t" transform="translate(1827.75,361) scale(1.02,1)" font-size="29.7" text-anchor="middle" stroke="#000" stroke-width="0.3">09</text>
<text class="t" transform="translate(1872,361) scale(1.02,1)" font-size="29.7" text-anchor="middle" stroke="#000" stroke-width="0.3">12</text>
<text class="t" transform="translate(1916.25,361) scale(1.02,1)" font-size="29.7" text-anchor="middle" stroke="#000" stroke-width="0.3">15</text>
<text class="t" transform="translate(1960.5,361) scale(1.02,1)" font-size="29.7" text-anchor="middle" stroke="#000" stroke-width="0.3">18</text>
<text class="t" transform="translate(2004.75,361) scale(1.02,1)" font-size="29.7" text-anchor="middle" stroke="#000" stroke-width="0.3">21</text>
<text class="t" transform="translate(2049,361) scale(1.02,1)" font-size="29.7" text-anchor="middle" stroke="#000" stroke-width="0.3">00</text>
<text class="t" transform="translate(1665.1,45.5) scale(1.04,1)" font-size="29.7" text-anchor="end" stroke="#000" stroke-width="0.3">20</text>
<text class="t" transform="translate(1665.1,110.25) scale(1.04,1)" font-size="29.7" text-anchor="end" stroke="#000" stroke-width="0.3">10</text>
<text class="t" transform="translate(1665.1,175) scale(1.04,1)" font-size="29.7" text-anchor="end" stroke="#000" stroke-width="0.3">0</text>
<text class="t" transform="translate(1665.1,239.75) scale(1.04,1)" font-size="29.7" text-anchor="end" stroke="#000" stroke-width="0.3">−<tspan dx="0.9">10</tspan></text>
<text class="t" transform="translate(1665.1,304.5) scale(1.04,1)" font-size="29.7" text-anchor="end" stroke="#000" stroke-width="0.3">−<tspan dx="0.9">20</tspan></text>
<text class="t" transform="translate(1863.45,409.3) scale(1.062,1)" font-size="43.3" text-anchor="middle" stroke="#000" stroke-width="0.3">Hour of Day</text>
<text class="b" transform="translate(2047,45.3) scale(1,1)" font-size="45" text-anchor="end" stroke="#000" stroke-width="0.15">Jan 2022</text>
<text class="b l" transform="translate(1551.5,45.4) scale(1,1)" font-size="43.5" text-anchor="start" stroke="#000" stroke-width="0.3">(d)</text>
</g>
<text class="t" transform="translate(34.8,164) rotate(-90) scale(1.008,1)" font-size="44.3" text-anchor="middle" stroke="#000" stroke-width="0.3"><tspan font-style="italic">δ</tspan>D (‰)</text>
</svg></body></html>
